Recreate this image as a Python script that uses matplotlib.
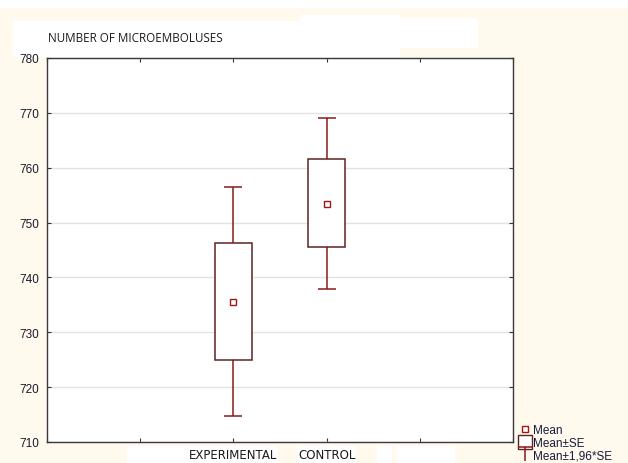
import numpy as np
import matplotlib
matplotlib.use("Agg")
from matplotlib import pyplot as plt
from matplotlib.patches import Rectangle
from matplotlib.lines import Line2D
from matplotlib.path import Path

# values
groups = ["EXPERIMENTAL", "CONTROL"]
group_pos = [2, 3]
mean = np.array([735.5, 753.3])
se_lo = np.array([724.9, 745.5])
se_hi = np.array([746.2, 761.5])
ci_lo = np.array([714.7, 737.9])
ci_hi = np.array([756.5, 769.0])

y_ticks = [710, 720, 730, 740, 750, 760, 770, 780]
x_ticks = [0, 1, 2, 3, 4, 5]
x_labels = ["", "", groups[0], groups[1], "", ""]

CREAM = "#fff9ee"
BOX_EDGE = "#5e2222"
WHISK = "#8b1a1a"
MEAN_EDGE = "#a01515"

fig = plt.figure(figsize=(6.28, 4.64), dpi=100, facecolor=CREAM)
W, H = 628, 464

def white_patch(x0, y0, x1, y1):
    # background rectangle in figure pixels (y measured from the top)
    fig.patches.append(Rectangle((x0 / W, 1 - y1 / H), (x1 - x0) / W, (y1 - y0) / H,
                                 transform=fig.transFigure, facecolor="white",
                                 edgecolor="none", zorder=-5))

white_patch(0, 0, W, 9)
white_patch(13, 22, 400, 58)
white_patch(300, 16, 400, 53)
white_patch(400, 19, 478, 49)
white_patch(127, 447, 278, H)
white_patch(297, 447, 355, H)
white_patch(377, 447, 392, H)
white_patch(397, 447, 455, H)

ax = fig.add_axes([47 / W, 1 - 443 / H, (513 - 47) / W, (443 - 59) / H])
ax.set_facecolor("white")
ax.set_xlim(0, 5)
ax.set_ylim(710, 780)
ax.set_yticks(y_ticks)
ax.set_xticks(x_ticks)
ax.set_xticklabels(x_labels, family=["Liberation Sans Narrow", "DejaVu Sans"], fontsize=8.5,
                   color="#1a1a1a")
ax.tick_params(axis="y", labelsize=8.5, labelcolor="#1a1a2a", pad=5.5)
ax.tick_params(axis="x", pad=4)
ax.tick_params(direction="in", length=3, top=True, right=True, color="#333333")
for lab in ax.get_yticklabels():
    lab.set_family(["Liberation Sans", "DejaVu Sans"])
for s in ax.spines.values():
    s.set_color("#3a3a3a")
    s.set_linewidth(1.0)
ax.yaxis.grid(True, color="#e2e2e2", linewidth=1.0)
ax.set_axisbelow(True)

# whiskers (mean +- 1.96*SE)
ax.errorbar(group_pos, mean, yerr=[mean - ci_lo, ci_hi - mean], fmt="none",
            ecolor=WHISK, elinewidth=1.1, capsize=6.5, capthick=1.1, zorder=2)
# boxes (mean +- SE)
ax.bar(group_pos, se_hi - se_lo, bottom=se_lo, width=0.4, facecolor="white",
       edgecolor=BOX_EDGE, linewidth=1.1, zorder=3)
# mean markers
ax.plot(group_pos, mean, linestyle="none", marker="s", markersize=4.2,
        markerfacecolor="white", markeredgecolor=MEAN_EDGE, markeredgewidth=1.0, zorder=4)

fig.text(48 / W, 1 - 38 / H, "NUMBER OF MICROEMBOLUSES", fontsize=8.4,
         family=["Open Sans", "DejaVu Sans"], color="#1a1a1a", va="center", ha="left")

t_marker = Path([(-1, 1), (1, 1), (0, 1), (0, -1)],
                [Path.MOVETO, Path.LINETO, Path.MOVETO, Path.LINETO])
handles = [
    Line2D([], [], linestyle="none", marker="s", markersize=4.2, markerfacecolor="white",
           markeredgecolor=MEAN_EDGE, markeredgewidth=1.0),
    Line2D([], [], linestyle="none", marker="s", markersize=10, markerfacecolor="white",
           markeredgecolor=BOX_EDGE, markeredgewidth=1.0),
    Line2D([], [], linestyle="none", marker=t_marker, markersize=10,
           markeredgecolor=WHISK, markeredgewidth=1.1),
]
fig.legend(handles, ["Mean", "Mean±SE", "Mean±1,96*SE"], loc="upper left",
           bbox_to_anchor=(512 / W, 1 - 417 / H), frameon=False,
           handlelength=0.8, handletextpad=0.3, labelspacing=0.05, borderpad=0.2,
           prop={"family": ["Liberation Sans", "DejaVu Sans"], "size": 8.5},
           labelcolor="#1a1a3a")

fig.savefig("out.png", dpi=100, facecolor=CREAM)
